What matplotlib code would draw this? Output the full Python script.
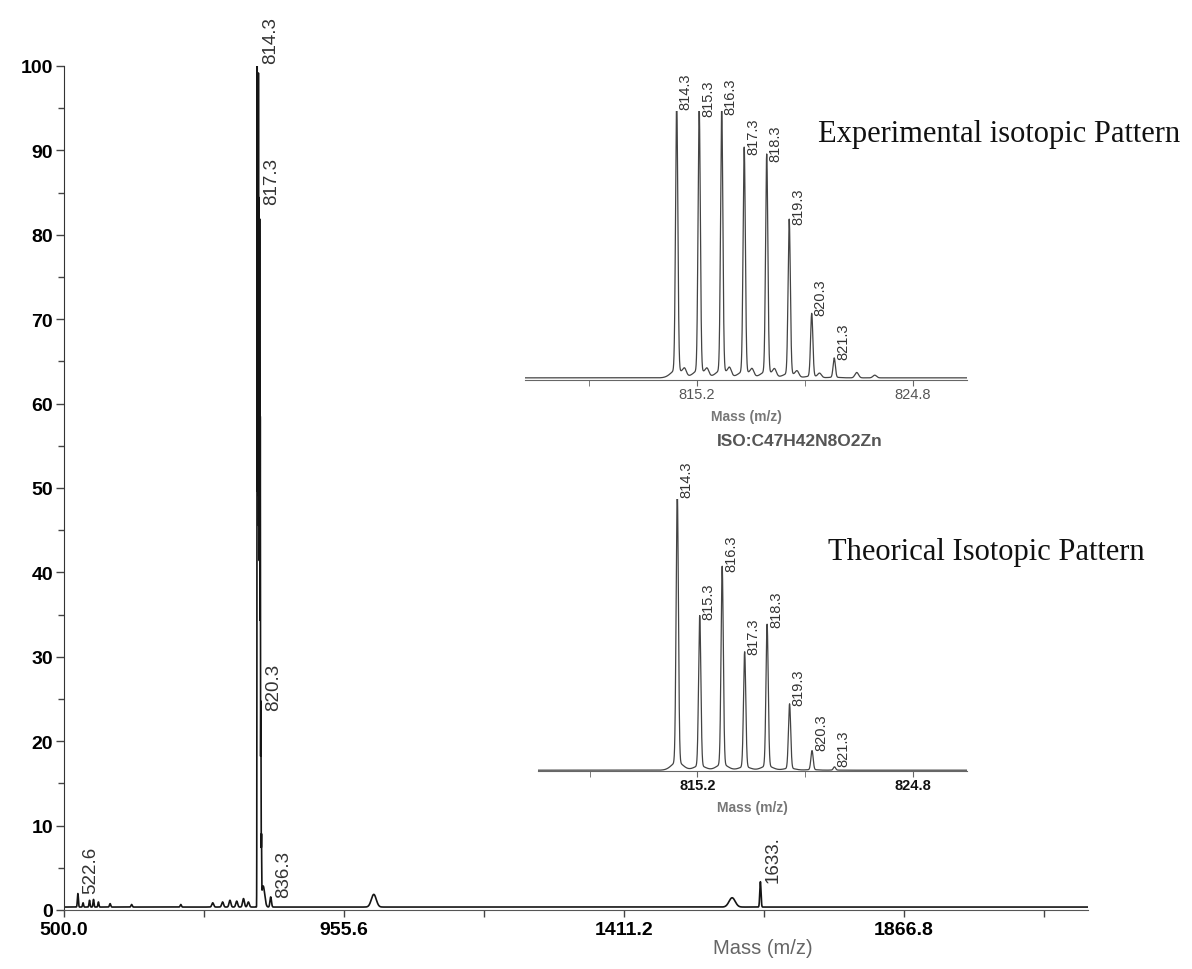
import numpy as np
import matplotlib.pyplot as plt

plt.rcParams['font.family'] = ['Liberation Sans', 'DejaVu Sans']

# isotope cluster of the [M]+ ion
iso_mz = [814.3, 815.3, 816.3, 817.3, 818.3, 819.3, 820.3, 821.3]
exp_int = [100.0, 97.5, 98.1, 83.3, 80.8, 57.3, 23.3, 7.2]
theo_int = [100.0, 55.2, 72.8, 42.3, 52.1, 23.7, 7.0, 1.2]

# other peaks of the full scan (m/z, % intensity, width)
main_mz = [522.6, 531.0, 541.5, 548.0, 556.0, 575.0, 610.0, 690.0, 742.0,
           758.0, 770.0, 781.0, 792.0, 800.0, 824.0, 836.3, 1004.0, 1587.0, 1633.0]
main_h = [1.6, 0.5, 0.8, 0.9, 0.6, 0.4, 0.3, 0.3, 0.5,
          0.6, 0.8, 0.7, 1.0, 0.6, 2.5, 1.2, 1.5, 1.1, 3.0]
main_w = [0.8, 0.8, 0.8, 0.8, 0.8, 1.0, 1.0, 1.0, 1.5,
          1.5, 1.5, 1.5, 1.5, 1.5, 2.5, 1.2, 4.0, 5.0, 1.0]

# labelled peaks in the full scan
main_lab = ["522.6", "814.3", "817.3", "820.3", "836.3", "1633."]
main_lab_mz = [522.6, 814.3, 817.3, 820.3, 836.3, 1633.0]
main_lab_y = [1.6, 100.0, 83.3, 23.3, 1.2, 3.0]

# small satellite bumps in the measured cluster
exp_sat_mz = [814.65, 815.65, 816.65, 817.65, 818.65, 819.65, 820.65, 822.3, 823.1]
exp_sat_h = [2.5, 2.5, 2.8, 2.5, 2.5, 2.0, 1.5, 2.0, 1.0]

xt_main = [500.0, 955.6, 1411.2, 1866.8]
xt_minor = [727.8, 1183.4, 1639.0, 2094.6]
xt_inset = [815.2, 824.8]
xt_inset_minor = [810.4, 820.0]

W, H = 1192, 970
fig = plt.figure(figsize=(W / 100, H / 100), dpi=100)


def box(x0, y0, x1, y1):
    return fig.add_axes([x0 / W, 1 - y1 / H, (x1 - x0) / W, (y1 - y0) / H])


def gauss(x, c, h, w):
    return h * np.exp(-0.5 * ((x - c) / w) ** 2)


# ---- full scan ----
ax = box(64, 67, 1088, 911)
mz = np.linspace(500, 2166, 40000)
y = np.full_like(mz, 0.35)
for c, h, w in zip(main_mz, main_h, main_w):
    y += gauss(mz, c, h, w)
for c, h in zip(iso_mz, exp_int):
    y += gauss(mz, c, h, 0.3)
ax.plot(mz, y, color="#151515", lw=1.2)

for t, c, h in zip(main_lab, main_lab_mz, main_lab_y):
    ax.annotate(t, (c, h), xytext=(13, 3), textcoords="offset pixels",
                rotation=90, ha="center", va="bottom", fontsize=13.5,
                color="#333333", annotation_clip=False)

ax.set_xlim(500, 2166)
ax.set_ylim(0, 100)
ax.set_xticks(xt_main)
ax.set_xticklabels([f"{v:.1f}" for v in xt_main])
ax.set_xticks(xt_minor, minor=True)
ax.set_yticks(range(0, 101, 10))
ax.set_yticks(range(5, 100, 10), minor=True)
ax.tick_params(which="both", direction="out", color="#444444", width=1)
ax.tick_params(axis="y", which="major", length=6, pad=2)
ax.tick_params(axis="y", which="minor", length=4)
ax.tick_params(axis="x", which="both", length=5, pad=3)
for lab in ax.get_xticklabels() + ax.get_yticklabels():
    lab.set_fontweight("bold")
    lab.set_fontsize(14)
ax.spines[["top", "right"]].set_visible(False)
ax.spines["left"].set_color("#333333")
ax.spines["bottom"].set_color("#555555")
ax.set_xlabel("Mass (m/z)", fontsize=14.5, color="#666666")
ax.xaxis.set_label_coords((763 - 64) / 1024, -(939 - 911) / 844)
ax.patch.set_alpha(0)

# ---- insets: measured and calculated isotope patterns ----
xi = np.linspace(807.0, 828.0, 6000)


def inset(x0, y0, x1, y1, xmin, ints, sat_mz, sat_h, base, bold):
    a = box(x0, y0, x1, y1)
    s = np.full_like(xi, base)
    for c, h in zip(iso_mz, ints):
        s += gauss(xi, c, h, 0.05)
        s += gauss(xi, c, h * 0.03, 0.25)
    for c, h in zip(sat_mz, sat_h):
        s += gauss(xi, c, h, 0.08)
    a.plot(xi, s, color="#444444", lw=0.9)
    for c, h in zip(iso_mz, ints):
        a.annotate(f"{c:.1f}", (c, h), xytext=(9, 2), textcoords="offset pixels",
                   rotation=90, ha="center", va="bottom", fontsize=10.5,
                   color="#333333", annotation_clip=False)
    a.set_xlim(xmin, 827.2)
    a.set_ylim(0, 100)
    a.set_xticks(xt_inset)
    a.set_xticklabels([f"{v:.1f}" for v in xt_inset])
    a.set_xticks(xt_inset_minor, minor=True)
    a.set_yticks([])
    a.tick_params(axis="x", which="both", direction="out", length=4,
                  color="#666666", pad=1, labelsize=10.5,
                  labelcolor="#111111" if bold else "#555555")
    if bold:
        for lab in a.get_xticklabels():
            lab.set_fontweight("bold")
    for sp in ["top", "right", "left"]:
        a.spines[sp].set_visible(False)
    a.spines["bottom"].set_color("#666666")
    a.set_xlabel("Mass (m/z)", fontsize=10, fontweight="bold",
                 color="#777777", labelpad=6)
    a.patch.set_alpha(0)
    return a


inset(525, 112, 967, 381, 807.56, exp_int, exp_sat_mz, exp_sat_h, 0.8, False)
inset(538, 500, 967, 772, 808.1, theo_int, [], [], 0.3, True)

fig.text(800 / W, 1 - 442 / H, "ISO:C47H42N8O2Zn", ha="center", va="center",
         fontsize=12.5, fontweight="bold", color="#555555")
fig.text(818 / W, 1 - 135 / H, "Experimental isotopic Pattern", ha="left",
         va="center", fontsize=22, family="Liberation Serif", color="#111111")
fig.text(828 / W, 1 - 553 / H, "Theorical Isotopic Pattern", ha="left",
         va="center", fontsize=22, family="Liberation Serif", color="#111111")

fig.savefig("out.png", dpi=100)
